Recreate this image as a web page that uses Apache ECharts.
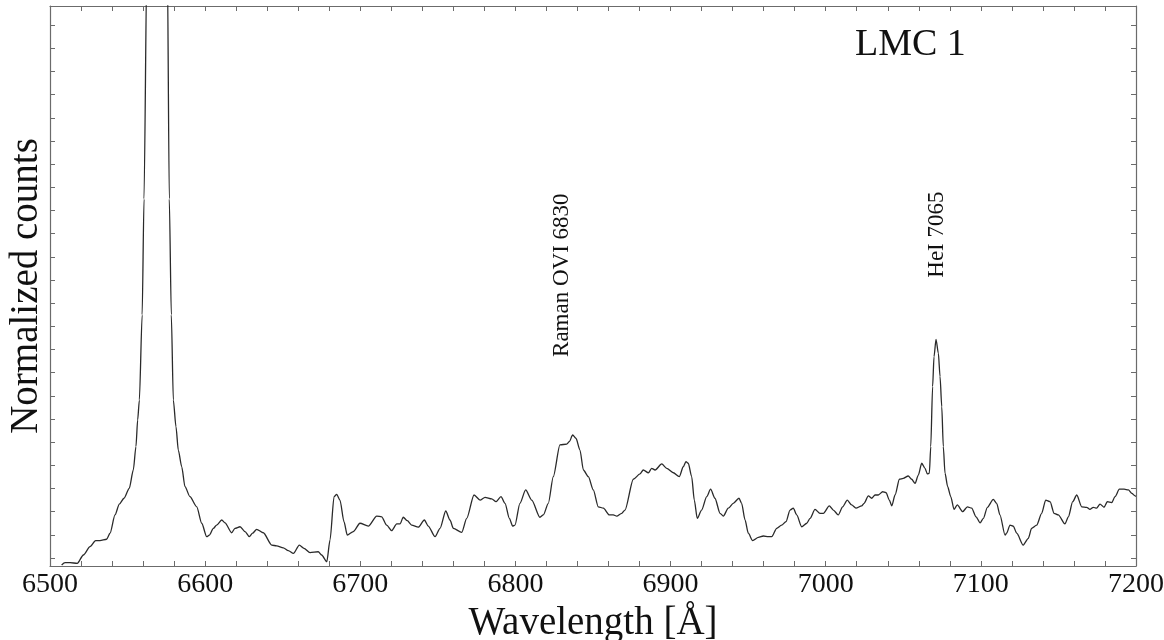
<!DOCTYPE html>
<html>
<head>
<meta charset="utf-8">
<script src="https://cdn.jsdelivr.net/npm/echarts@6/dist/echarts.min.js"></script>
<style>
html,body{margin:0;padding:0;background:#fff;}
#chart{width:1164px;height:640px;}
</style>
</head>
<body>
<div id="chart"></div>
<script>
// Wavelength (Å) and normalized counts (arbitrary units, one unit per y tick)
const wavelength = [
6507.5,6509.7,6512.9,6517.6,6521.5,6525.8,6529.4,6532.2,6536.5,6538.7,6541.9,6544.7,6547.7,6551.1,6553.7,6555.4,6556.5,6557.6,6559.4,6560.6,6562.5,6569.0,6575.6,6576.9,6578.2,6579.5,6581.2,6582.7,6584.9,6587.0,6590.2,6594.6,6597.8,
6601.0,6602.7,6605.3,6607.4,6610.7,6612.8,6617.1,6619.2,6622.5,6625.7,6628.5,6630.6,6633.2,6637.5,6642.9,6646.1,6650.4,6653.6,6656.9,6660.7,6663.7,6667.6,6672.9,6675.1,6678.4,6680.5,6683.1,6684.8,6686.9,6689.5,6691.6,6695.5,6699.8,
6705.2,6710.6,6713.8,6717.0,6720.2,6723.5,6725.6,6727.7,6730.3,6733.1,6737.4,6741.3,6743.8,6748.2,6751.4,6755.1,6757.8,6760.0,6765.4,6768.6,6773.3,6777.2,6780.4,6784.7,6787.5,6790.7,6793.3,6796.1,6798.2,6799.7,
6802.9,6806.6,6810.5,6815.8,6818.0,6821.2,6824.4,6828.7,6833.1,6834.7,6836.9,6839.0,6841.6,6843.8,6847.0,6850.2,6853.4,6856.7,6860.5,6863.1,6865.3,6868.5,6870.6,6876.0,6880.3,6882.4,6885.7,6887.8,6890.0,6894.3,6897.5,
6901.8,6905.6,6908.2,6909.9,6911.4,6913.6,6915.3,6917.2,6920.0,6923.3,6925.8,6928.6,6931.9,6934.0,6937.2,6940.4,6944.1,6945.8,6948.0,6950.1,6952.9,6956.6,6959.8,6963.0,6965.2,6968.4,6971.6,6974.4,6977.0,6979.1,6981.3,6984.5,6987.8,6989.9,6993.1,6996.3,6998.5,
7002.3,7004.9,7008.1,7010.9,7013.9,7016.7,7019.5,7023.2,7024.7,7027.5,7029.6,7031.8,7033.9,7036.7,7038.9,7041.0,7042.6,7044.7,7047.5,7050.0,7053.2,7055.4,7057.6,7059.7,7061.9,7064.0,7065.5,7066.8,7067.7,7068.9,7069.8,7071.1,7072.6,7073.7,7074.8,7075.8,7076.9,7078.6,7080.6,7082.7,7084.8,7088.3,7091.3,7094.1,7096.9,7099.5,
7101.6,7104.2,7108.0,7110.2,7112.3,7115.6,7116.6,7118.8,7120.9,7123.1,7127.3,7130.6,7132.7,7136.0,7139.2,7141.8,7144.6,7147.2,7149.9,7154.2,7156.4,7159.2,7161.8,7165.0,7168.2,7170.3,7172.5,7174.6,7176.8,7179.4,7181.5,7184.3,7186.5,7189.3,7192.3,7195.1,7197.3,7199.4,7200.0
];
const counts = [
-0.30,-0.20,-0.20,-0.23,0.13,0.49,0.75,0.75,0.81,1.07,1.86,2.33,2.58,3.01,3.80,4.81,5.96,6.82,10.5,15.5,26.0,60.0,26.0,15.5,10.5,6.82,5.67,4.66,3.94,3.08,2.65,2.21,1.50,
0.92,0.99,1.28,1.42,1.64,1.52,1.09,1.28,1.35,1.14,0.92,1.07,1.24,1.09,0.56,0.52,0.44,0.32,0.20,0.56,0.42,0.23,0.27,0.13,-0.16,0.78,2.65,2.75,2.50,1.57,0.99,1.14,1.50,
1.38,1.81,1.78,1.42,1.18,1.47,1.47,1.76,1.61,1.42,1.33,1.64,1.38,0.92,1.28,2.03,1.64,1.28,1.11,1.71,2.72,2.50,2.62,2.55,2.43,2.65,2.36,1.71,1.38,1.42,
2.36,2.94,2.50,1.76,1.86,2.36,3.51,4.88,4.92,5.02,5.31,5.17,4.66,3.80,3.51,2.94,2.21,2.15,1.86,1.86,1.81,1.93,2.07,3.40,3.63,3.80,3.68,3.87,3.80,4.06,3.87,
3.68,3.51,3.94,4.16,4.09,3.51,2.50,1.71,2.07,2.65,2.97,2.58,1.93,1.81,2.15,2.36,2.58,2.36,1.64,1.07,0.75,0.89,0.95,0.92,0.92,1.28,1.42,1.57,2.07,2.15,1.86,1.35,1.50,1.71,2.10,1.93,1.93,
2.25,2.07,1.86,2.21,2.50,2.29,2.15,2.25,2.36,2.68,2.58,2.72,2.72,2.86,2.82,2.50,2.25,2.72,3.40,3.44,3.54,3.40,3.22,3.58,4.09,3.87,3.63,3.66,4.81,7.40,8.69,9.44,8.84,7.83,6.53,4.81,3.66,3.08,2.65,2.10,2.29,2.00,2.21,2.15,1.78,1.52,
1.71,2.19,2.53,2.36,1.86,0.99,1.07,1.42,1.38,1.07,0.56,0.85,1.28,1.42,1.93,2.50,2.43,1.93,1.86,1.47,1.78,2.43,2.72,2.21,2.19,2.10,2.19,2.15,2.33,2.19,2.43,2.39,2.65,2.97,2.97,2.94,2.79,2.68,2.66
];
const xTicks = [6500, 6600, 6700, 6800, 6900, 7000, 7100, 7200];
const yTicks = [0,1,2,3,4,5,6,7,8,9,10,11,12,13,14,15,16,17,18,19,20,21,22,23];
const lineLabels = ['Raman OVI 6830', 'HeI 7065'];
const lineLabelX = [6830, 7071.5];
const lineLabelY = [8.68, 12.1];
const titleText = 'LMC 1';
const xName = 'Wavelength [Å]';
const yName = 'Normalized counts';

const FONT = '"Liberation Serif", "DejaVu Serif", serif';
const AXIS_COLOR = '#6b6b6b';
const yMin = -0.345, yMax = 23.83;

const chart = echarts.init(document.getElementById('chart'), null, {renderer: 'canvas'});
const seriesData = wavelength.map((w, i) => [w, counts[i]]);

const yAxisCommon = {
  type: 'value', min: yMin, max: yMax,
  axisLine: {show: true, lineStyle: {color: AXIS_COLOR, width: 1.2}},
  axisTick: {show: true, inside: true, length: 5, customValues: yTicks, lineStyle: {color: AXIS_COLOR}},
  axisLabel: {show: false},
  splitLine: {show: false}
};
const xAxisCommon = {
  type: 'value', min: 6500, max: 7200, interval: 100,
  axisLine: {show: true, onZero: false, lineStyle: {color: AXIS_COLOR, width: 1.2}},
  axisTick: {show: true, inside: true, length: 5, lineStyle: {color: AXIS_COLOR}},
  minorTick: {show: true, splitNumber: 5, length: 5, lineStyle: {color: AXIS_COLOR}},
  splitLine: {show: false}
};

chart.setOption({
  animation: false,
  backgroundColor: '#ffffff',
  title: {
    text: titleText, left: 855, top: 26, padding: 0,
    textStyle: {fontFamily: FONT, fontSize: 38, fontWeight: 'normal', color: '#111'}
  },
  grid: {left: 50, right: 28, top: 6, bottom: 74, containLabel: false, outerBoundsMode: 'none'},
  xAxis: [
    Object.assign({}, xAxisCommon, {
      position: 'bottom',
      axisLabel: {show: true, margin: 5, fontFamily: FONT, fontSize: 28, color: '#111',
        customValues: xTicks, formatter: v => String(v)},
      name: xName, nameLocation: 'middle', nameGap: 15,
      nameTextStyle: {fontFamily: FONT, fontSize: 39, color: '#111', verticalAlign: 'top'}
    }),
    Object.assign({}, xAxisCommon, {position: 'top', axisLabel: {show: false}})
  ],
  yAxis: [
    Object.assign({}, yAxisCommon, {
      position: 'left',
      name: yName, nameLocation: 'middle', nameGap: 4,
      nameTextStyle: {fontFamily: FONT, fontSize: 39, color: '#111'}
    }),
    Object.assign({}, yAxisCommon, {position: 'right'})
  ],
  series: [{
    type: 'line', xAxisIndex: 0, yAxisIndex: 0,
    data: seriesData, showSymbol: false, symbol: 'none',
    smooth: 0.25, smoothMonotone: 'x', clip: true,
    lineStyle: {color: '#2a2a2a', width: 1.3}
  }]
});

const graphics = lineLabels.map((t, i) => {
  const p = chart.convertToPixel({gridIndex: 0}, [lineLabelX[i], lineLabelY[i]]);
  return {
    type: 'text', x: p[0], y: p[1], rotation: Math.PI / 2,
    style: {text: t, font: '23px ' + FONT, fill: '#111',
      textAlign: 'left', textVerticalAlign: 'middle', align: 'left', verticalAlign: 'middle'}
  };
});
chart.setOption({graphic: graphics});
</script>
</body>
</html>
